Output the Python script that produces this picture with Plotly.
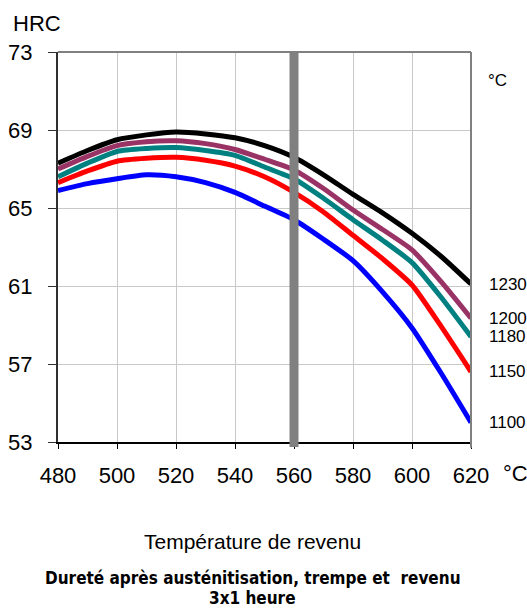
import plotly.graph_objects as go

temperatures = [480, 490, 500, 510, 520, 530, 540, 550, 560, 570, 580, 590, 600, 610, 620]
series_names = ["1230", "1200", "1180", "1150", "1100"]
hrc_1230 = [67.3, 67.95, 68.5, 68.75, 68.9, 68.8, 68.6, 68.2, 67.6, 66.7, 65.7, 64.75, 63.7, 62.5, 61.1]
hrc_1200 = [67.0, 67.65, 68.2, 68.4, 68.45, 68.3, 68.0, 67.5, 66.95, 66.0, 64.9, 63.9, 62.85, 61.2, 59.35]
hrc_1180 = [66.6, 67.3, 67.9, 68.05, 68.1, 67.95, 67.7, 67.1, 66.5, 65.5, 64.4, 63.35, 62.2, 60.4, 58.4]
hrc_1150 = [66.3, 66.9, 67.4, 67.55, 67.6, 67.45, 67.15, 66.6, 65.8, 64.8, 63.6, 62.4, 61.05, 58.9, 56.6]
hrc_1100 = [65.9, 66.25, 66.5, 66.7, 66.6, 66.3, 65.8, 65.1, 64.4, 63.4, 62.3, 60.7, 58.85, 56.5, 54.0]
x_ticks = [480, 500, 520, 540, 560, 580, 600, 620]
y_ticks = [53, 57, 61, 65, 69, 73]
marker_temp = 560

colors = ["#000000", "#993366", "#008080", "#FF0000", "#0000FF"]
all_series = [hrc_1230, hrc_1200, hrc_1180, hrc_1150, hrc_1100]

fig = go.Figure()
for name, vals, col in zip(series_names, all_series, colors):
    fig.add_trace(go.Scatter(x=temperatures, y=vals, mode="lines", name=name,
                             line=dict(color=col, width=5, shape="spline", smoothing=0.6),
                             cliponaxis=True, showlegend=False))

font_main = "Liberation Sans, Arial, sans-serif"

fig.update_layout(
    width=527, height=609,
    margin=dict(l=58, r=56, t=52, b=167, autoexpand=False),
    paper_bgcolor="white", plot_bgcolor="white",
    font=dict(family=font_main, color="black"),
    xaxis=dict(range=[480, 620], tickvals=x_ticks, ticktext=[str(v) for v in x_ticks],
               automargin=False,
               showgrid=True, gridcolor="#c8c8c8", gridwidth=1,
               showline=True, linecolor="black", linewidth=1.5,
               ticks="outside", ticklen=5, tickcolor="black", tickwidth=1,
               ticklabelstandoff=8,
               tickfont=dict(size=22, family=font_main), zeroline=False, fixedrange=True),
    yaxis=dict(range=[53, 73], tickvals=y_ticks, ticktext=[str(v) for v in y_ticks],
               automargin=False,
               showgrid=True, gridcolor="#c8c8c8", gridwidth=1,
               showline=True, linecolor="#303030", linewidth=2,
               ticks="outside", ticklen=8, tickcolor="#303030", tickwidth=1,
               ticklabelstandoff=11,
               tickfont=dict(size=22, family=font_main), zeroline=False, fixedrange=True),
)

# gray border top/right
fig.add_shape(type="line", xref="paper", yref="paper", x0=0, x1=1, y0=1, y1=1,
              line=dict(color="#808080", width=2), layer="above")
fig.add_shape(type="line", xref="paper", yref="paper", x0=1, x1=1, y0=-0.015, y1=1,
              line=dict(color="#808080", width=2), layer="above")
# vertical gray bar at 560
fig.add_shape(type="line", xref="x", yref="paper", x0=marker_temp, x1=marker_temp, y0=-0.013, y1=1,
              line=dict(color="#808080", width=9), layer="above")

# series labels
for name, vals in zip(series_names, all_series):
    fig.add_annotation(text=name, xref="paper", yref="y", x=1.039, y=vals[-1],
                       xanchor="left", yanchor="middle", showarrow=False,
                       font=dict(size=17, family="Liberation Sans"))

fig.add_annotation(text="°C", xref="paper", yref="paper", x=1.037, y=0.928,
                   xanchor="left", yanchor="middle", showarrow=False,
                   font=dict(size=17, family="Liberation Sans"))
fig.add_annotation(text="HRC", xref="paper", yref="paper", x=-0.113, y=1.072,
                   xanchor="left", yanchor="middle", showarrow=False, font=dict(size=22))
fig.add_annotation(text="°C", xref="paper", yref="paper", x=1.072, y=-0.082,
                   xanchor="left", yanchor="middle", showarrow=False, font=dict(size=22))
fig.add_annotation(text="Température de revenu", xref="paper", yref="paper", x=0.472, y=-0.254,
                   xanchor="center", yanchor="middle", showarrow=False, font=dict(size=21))
title_font = dict(size=17, family="DejaVu Sans Condensed, sans-serif")
fig.add_annotation(text="<b>Dureté après austénitisation, trempe et  revenu</b>",
                   xref="paper", yref="paper", x=0.472, y=-0.349,
                   xanchor="center", yanchor="middle", showarrow=False, font=title_font)
fig.add_annotation(text="<b>3x1 heure</b>",
                   xref="paper", yref="paper", x=0.472, y=-0.401,
                   xanchor="center", yanchor="middle", showarrow=False, font=title_font)

fig.write_html("out.html", config={"displayModeBar": False},
               post_script="document.body.style.margin='0';document.body.style.overflow='hidden';")
